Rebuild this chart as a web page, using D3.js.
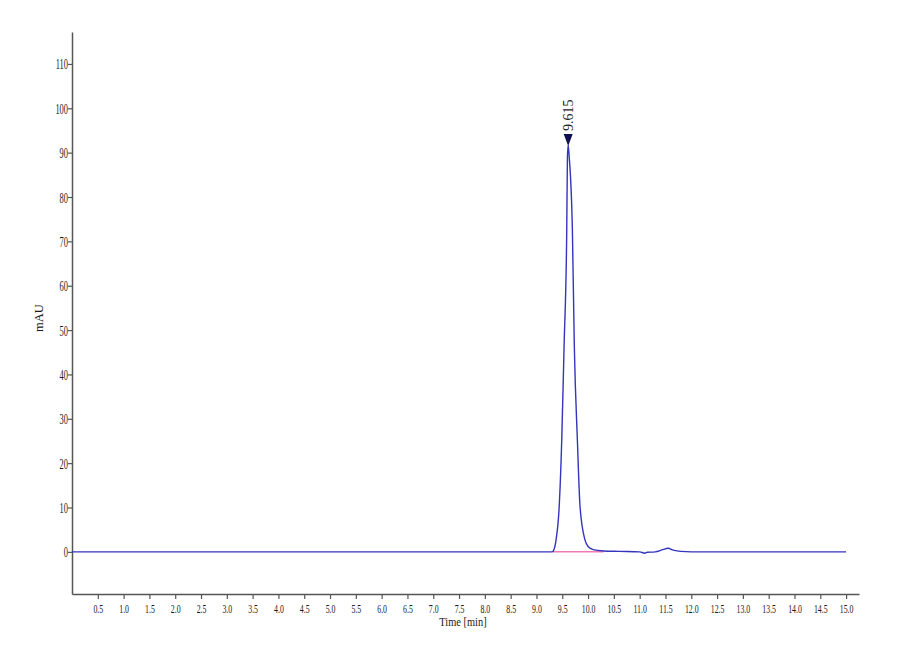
<!DOCTYPE html>
<html>
<head>
<meta charset="utf-8">
<script src="https://cdn.jsdelivr.net/npm/d3@7"></script>
<style>
  body { margin: 0; background: #fff; }
  text { font-family: "Liberation Serif", "DejaVu Serif", serif; }
</style>
</head>
<body>
<div id="wrapper"></div>
<script>
// chromatogram trace (time in min, signal in mAU)
const traceTime = [0, 9.0, 9.30, 9.33, 9.38, 9.44, 9.49, 9.535, 9.587, 9.60, 9.615, 9.635,
  9.696, 9.734, 9.793, 9.845, 9.94, 10.0, 10.1, 10.3, 10.6, 11.0, 11.1, 11.15, 11.3,
  11.45, 11.55, 11.65, 11.8, 12.0, 15.0]
const traceSignal = [0, 0, 0, 0.3, 2.7, 10.1, 25.2, 46.2, 72.6, 89, 91.7, 89,
  72.6, 46.2, 25.2, 10.1, 2.7, 1.2, 0.5, 0.2, 0.1, 0, -0.3, -0.1, 0,
  0.5, 0.8, 0.4, 0.1, 0, 0]
// integration baseline under the peak
const baselineTime = [9.32, 10.3]
const baselineSignal = [0, 0]
// peak annotation
const peakTime = 9.615
const peakSignal = 91.7
const peakLabel = "9.615"
// ticks
const yTicks = d3.range(0, 111, 10)
const xTicks = d3.range(1, 31).map(d => d / 2)

const width = 900
const height = 660

const svg = d3.select("#wrapper")
  .append("svg")
    .attr("width", width)
    .attr("height", height)

const xScale = d3.scaleLinear()
    .domain([0, 15.25])
    .range([72, 859])
const yScale = d3.scaleLinear()
    .domain([-9.5, 117.2])
    .range([594, 32])

// axes (labels are a narrow serif, so squeeze them sideways)
const yAxis = svg.append("g")
    .attr("transform", "translate(72,0)")
    .call(d3.axisLeft(yScale)
      .tickValues(yTicks)
      .tickSize(4)
      .tickSizeOuter(0))
yAxis.select(".domain").attr("stroke", "#555").attr("stroke-width", 1.5)
yAxis.selectAll(".tick line").attr("stroke", "#555").attr("stroke-width", 1.2)
yAxis.selectAll(".tick text")
    .attr("x", 0)
    .attr("dy", null)
    .attr("transform", "translate(-4,5) scale(0.6,1)")
    .attr("fill", "#1a1a1a")
    .style("font-size", "14px")

const xAxis = svg.append("g")
    .attr("transform", "translate(0,594)")
    .call(d3.axisBottom(xScale)
      .tickValues(xTicks)
      .tickFormat(d3.format(".1f"))
      .tickSize(5)
      .tickSizeOuter(0))
xAxis.select(".domain").attr("stroke", "#555").attr("stroke-width", 1.5)
xAxis.selectAll(".tick line").attr("stroke", "#555").attr("stroke-width", 1.2)
xAxis.selectAll(".tick text")
    .attr("y", 0)
    .attr("dy", null)
    .attr("transform", "translate(0,19) scale(0.58,1)")
    .attr("fill", "#1a1a1a")
    .style("font-size", "13.5px")

svg.append("text")
    .attr("transform", "translate(463,626) scale(0.8,1)")
    .attr("text-anchor", "middle")
    .attr("fill", "#1a1a1a")
    .style("font-size", "13px")
    .text("Time [min]")

svg.append("text")
    .attr("transform", "translate(43,318) rotate(-90)")
    .attr("text-anchor", "middle")
    .attr("fill", "#1a1a1a")
    .style("font-size", "12.5px")
    .text("mAU")

// baseline
const lineGen = d3.line()
    .x(d => xScale(d[0]))
    .y(d => yScale(d[1]))
svg.append("path")
    .attr("d", lineGen(d3.zip(baselineTime, baselineSignal)))
    .attr("fill", "none")
    .attr("stroke", "#f07ab8")
    .attr("stroke-width", 1.5)

// trace
const traceLine = d3.line()
    .x(d => xScale(d[0]))
    .y(d => yScale(d[1]))
    .curve(d3.curveMonotoneX)
svg.append("path")
    .attr("d", traceLine(d3.zip(traceTime, traceSignal)))
    .attr("fill", "none")
    .attr("stroke", "#3434bc")
    .attr("stroke-width", 1.4)

// peak marker
const px = xScale(peakTime)
const py = yScale(peakSignal)
svg.append("path")
    .attr("d", `M${px - 4.5},${py - 11} L${px + 4.5},${py - 11} L${px},${py + 1} Z`)
    .attr("fill", "#101050")
svg.append("text")
    .attr("transform", `translate(${px + 4.5},${py - 14}) rotate(-90)`)
    .attr("fill", "#1a1a1a")
    .style("font-size", "14px")
    .text(peakLabel)
</script>
</body>
</html>
